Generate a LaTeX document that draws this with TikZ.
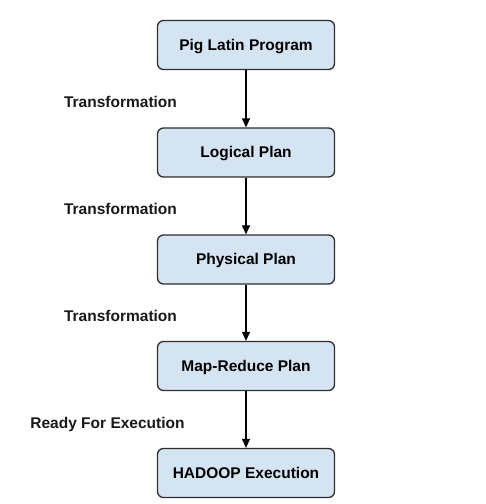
\documentclass[tikz,border=0pt]{standalone}
\usepackage{fontspec}
\setmainfont{Liberation Sans}
\usetikzlibrary{arrows.meta}
\definecolor{boxfill}{HTML}{D5E4F3}
\definecolor{boxline}{HTML}{2E2E2E}
\tikzset{
  stepbox/.style={draw=boxline, line width=1.3pt, fill=boxfill, rounded corners=6pt,
    minimum width=177pt, minimum height=49pt, font=\bfseries\fontsize{15.5}{18}\selectfont,
    inner sep=0pt, text height=11pt, text depth=1pt},
  lbl/.style={font=\bfseries\fontsize{15.5}{18}\selectfont, text=black!90, inner sep=0pt,
    text height=11pt, text depth=1pt},
  conn/.style={draw=black, line width=1.2pt, -{Triangle[length=9pt,width=8pt]}}
}
\begin{document}
\begin{tikzpicture}[x=1pt,y=1pt]
\useasboundingbox[fill=white] (0,0) rectangle (486,-504);
\node[stepbox] (n1) at (246,-45) {Pig Latin Program};
\node[stepbox] (n2) at (246,-152.5) {Logical Plan};
\node[stepbox] (n3) at (246,-259.5) {Physical Plan};
\node[stepbox] (n4) at (246,-366) {Map-Reduce Plan};
\node[stepbox] (n5) at (246,-473) {HADOOP Execution};
\draw[conn] (n1) -- (n2);
\draw[conn] (n2) -- (n3);
\draw[conn] (n3) -- (n4);
\draw[conn] (n4) -- (n5);
\node[lbl] (l1) at (120.5,-102) {Transformation};
\node[lbl] (l2) at (120.5,-209) {Transformation};
\node[lbl] (l3) at (120.5,-316) {Transformation};
\node[lbl] (l4) at (107.5,-423) {Ready For Execution};
\end{tikzpicture}
\end{document}
